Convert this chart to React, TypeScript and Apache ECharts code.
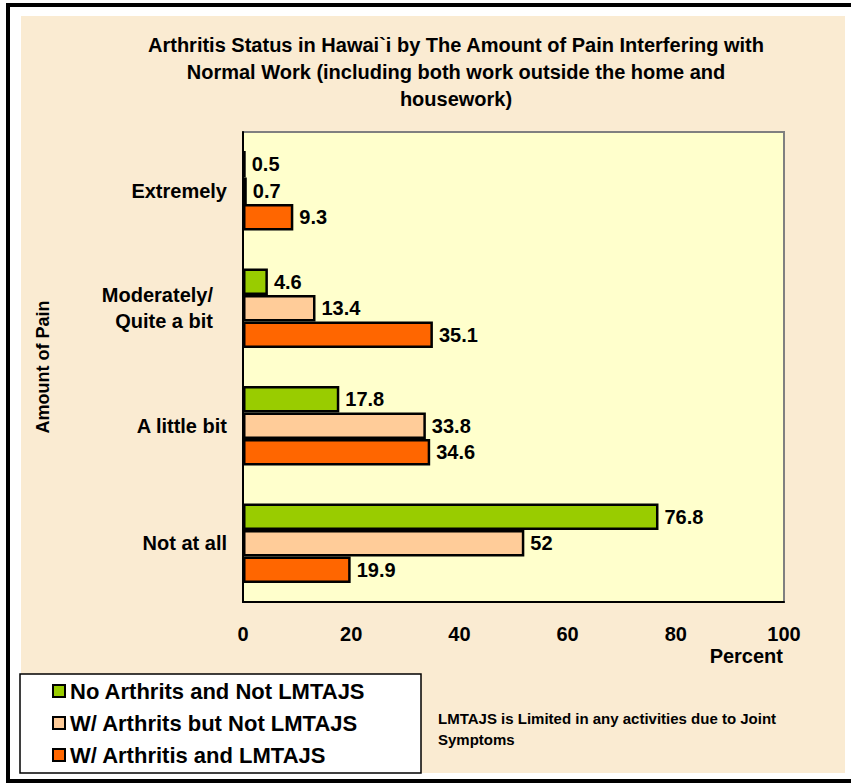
import React, { useEffect, useRef } from "react";
import * as echarts from "echarts";

const categories = ["Not at all", "A little bit", "Moderately/\nQuite a bit", "Extremely"];
const noArthritis = [76.8, 17.8, 4.6, 0.5];
const arthritisNotLimited = [52, 33.8, 13.4, 0.7];
const arthritisLimited = [19.9, 34.6, 35.1, 9.3];
const seriesNames = ["No Arthrits and Not LMTAJS", "W/ Arthrits but Not LMTAJS", "W/ Arthritis and LMTAJS"];
const titleText = "Arthritis Status in Hawai`i by The Amount of Pain Interfering with\nNormal Work (including both work outside the home and\nhousework)";
const noteText = "LMTAJS is Limited in any activities due to Joint\nSymptoms";

const FONT = 'Arial, "Liberation Sans", sans-serif';

export default function App() {
  const ref = useRef<HTMLDivElement>(null);
  useEffect(() => {
    if (!ref.current) return;
    const chart = echarts.init(ref.current, undefined, { renderer: "svg" });
    const label = {
      show: true,
      position: "right",
      distance: 6,
      color: "#000",
      fontWeight: "bold",
      fontSize: 20,
      fontFamily: FONT,
    };
    const mkSeries = (name: string, data: number[], color: string) => ({
      name,
      type: "bar",
      data,
      barWidth: 26.5,
      barGap: "0%",
      itemStyle: { color, borderColor: "#000", borderWidth: 2.5 },
      label,
    });
    chart.setOption({
      animation: false,
      backgroundColor: "#fff",
      textStyle: { fontFamily: FONT },
      graphic: [
        { type: "rect", z: -10, shape: { x: 8, y: 5, width: 850, height: 776 }, style: { fill: "#fff", stroke: "#000", lineWidth: 4 } },
        { type: "rect", z: -9, shape: { x: 21, y: 16, width: 824, height: 757 }, style: { fill: "#FAEBD2" } },
        { type: "rect", z: -8, shape: { x: 20, y: 674, width: 401, height: 99 }, style: { fill: "#fff", stroke: "#000", lineWidth: 1.5 } },
        {
          type: "text", x: 456, y: 31,
          style: { text: titleText, textAlign: "center", fill: "#000", font: `bold 20px ${FONT}`, lineHeight: 27 },
        },
        {
          type: "text", x: 43, y: 367, rotation: Math.PI / 2,
          style: { text: "Amount of Pain", textAlign: "center", textVerticalAlign: "middle", fill: "#000", font: `bold 18px ${FONT}` },
        },
        {
          type: "text", x: 783, y: 656,
          style: { text: "Percent", textAlign: "right", textVerticalAlign: "middle", fill: "#000", font: `bold 20px ${FONT}` },
        },
        {
          type: "text", x: 438, y: 708,
          style: { text: noteText, textAlign: "left", fill: "#000", font: `bold 15px ${FONT}`, lineHeight: 21 },
        },
      ],
      legend: {
        orient: "vertical",
        left: 52,
        top: 680,
        padding: 0,
        itemWidth: 12,
        itemHeight: 12,
        itemGap: 10,
        icon: "rect",
        data: seriesNames,
        textStyle: { fontWeight: "bold", fontSize: 22, color: "#000", fontFamily: FONT },
      },
      grid: {
        left: 243,
        top: 132,
        width: 541,
        height: 470,
        show: true,
        backgroundColor: "#FFFFCC",
        borderColor: "#808080",
        borderWidth: 2,
      },
      xAxis: {
        type: "value",
        min: 0,
        max: 100,
        interval: 20,
        axisLine: { show: true, lineStyle: { color: "#000", width: 2 } },
        axisTick: { show: false },
        splitLine: { show: false },
        axisLabel: { margin: 22, color: "#000", fontWeight: "bold", fontSize: 20, fontFamily: FONT },
      },
      yAxis: {
        type: "category",
        data: categories,
        axisLine: { show: true, lineStyle: { color: "#000", width: 2 } },
        axisTick: { show: false },
        axisLabel: {
          margin: 16,
          color: "#000",
          fontWeight: "bold",
          fontSize: 20,
          fontFamily: FONT,
          lineHeight: 26,
          formatter: (v: string) => (v.indexOf("\n") >= 0 ? v.split("\n").map((s) => `{m|${s}}`).join("\n") : v),
          rich: {
            m: { fontWeight: "bold", fontSize: 20, fontFamily: FONT, color: "#000", lineHeight: 26, padding: [0, 14, 0, 0] },
          },
        },
      },
      series: [
        mkSeries(seriesNames[0], noArthritis, "#99CC00"),
        mkSeries(seriesNames[1], arthritisNotLimited, "#FFCC99"),
        mkSeries(seriesNames[2], arthritisLimited, "#FF6600"),
      ],
    });
    return () => chart.dispose();
  }, []);
  return <div ref={ref} style={{ width: 851, height: 784, position: "absolute", left: 0, top: 0 }} />;
}
